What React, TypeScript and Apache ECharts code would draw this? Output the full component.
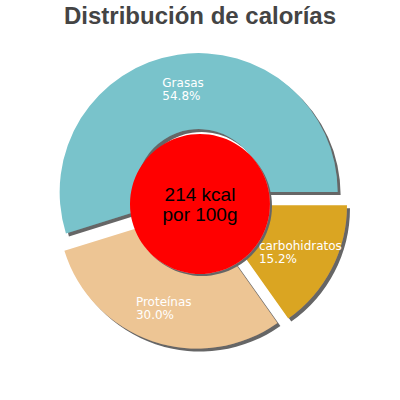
import React, { useEffect, useRef } from 'react';
import * as echarts from 'echarts';

const titleText = 'Distribución de calorías';
const categories = ['Grasas', 'Proteínas', 'carbohidratos'];
const percents = [54.8, 30.0, 15.2];
const colors = ['#79c3cb', '#edc594', '#daa520'];
const energyKcal = 214;
const energyUnit = 'kcal';
const energyBasis = 'por 100g';

const FONT = '"Liberation Sans", Arial, sans-serif';
const LABEL_FONT = '"DejaVu Sans", sans-serif';

const App: React.FC = () => {
  const chartRef = useRef<HTMLDivElement | null>(null);

  useEffect(() => {
    const chart = echarts.init(chartRef.current!, undefined, { renderer: 'svg' });

    const shadow = {
      shadowColor: '#666666',
      shadowBlur: 0,
      shadowOffsetX: 3,
      shadowOffsetY: 3,
    };

    const option = {
      animation: false,
      title: {
        text: titleText,
        left: 'center',
        top: 3,
        padding: 0,
        textStyle: {
          fontFamily: FONT,
          fontSize: 24,
          fontWeight: 'bold',
          color: '#444444',
        },
      },
      series: [
        {
          type: 'pie',
          center: [200, 201],
          radius: [63, 139],
          startAngle: 0,
          clockwise: false,
          selectedMode: 'multiple',
          selectedOffset: 9,
          silent: true,
          emphasis: { disabled: true },
          avoidLabelOverlap: false,
          label: {
            show: true,
            position: 'inside',
            formatter: (p: any) => `{a|${p.name}}\n{a|${p.value.toFixed(1)}%}`,
            rich: {
              a: {
                align: 'left',
                color: '#ffffff',
                fontFamily: LABEL_FONT,
                fontSize: 12,
                lineHeight: 13,
              },
            },
          },
          labelLine: { show: false },
          itemStyle: { ...shadow },
          data: categories.map((name, i) => ({
            name,
            value: percents[i],
            selected: true,
            itemStyle: { color: colors[i] },
          })),
        },
        {
          type: 'pie',
          center: [200, 204],
          radius: [0, 70],
          silent: true,
          emphasis: { disabled: true },
          label: {
            show: true,
            position: 'center',
            color: '#000000',
            fontFamily: FONT,
            fontSize: 19,
            lineHeight: 20,
            formatter: `${energyKcal} ${energyUnit}\n${energyBasis}`,
          },
          labelLine: { show: false },
          itemStyle: { color: '#ff0000', ...shadow, shadowOffsetX: 2, shadowOffsetY: 2 },
          data: [{ name: 'energy', value: energyKcal }],
        },
      ],
    };

    chart.setOption(option);

    return () => {
      chart.dispose();
    };
  }, []);

  return (
    <div
      ref={chartRef}
      style={{ position: 'fixed', left: 0, top: 0, width: '400px', height: '400px', background: '#fff' }}
    />
  );
};

export default App;
